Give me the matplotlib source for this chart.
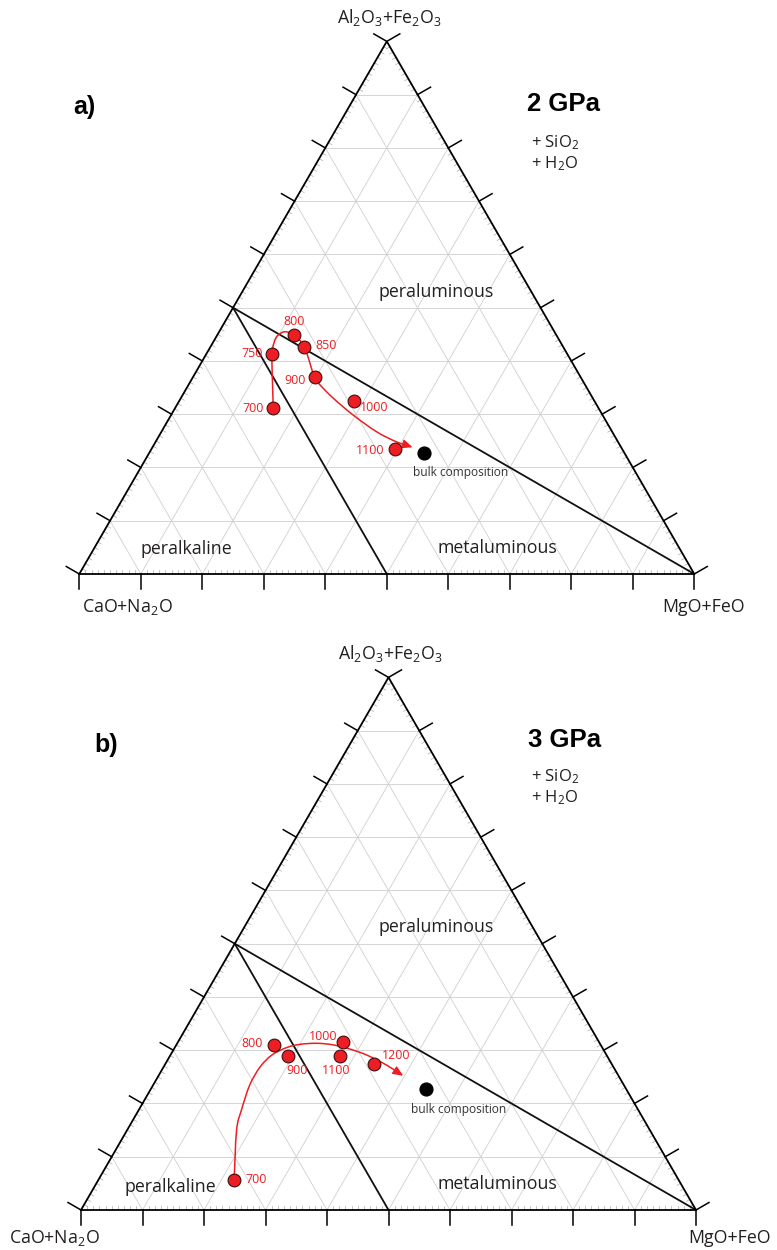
import numpy as np
import matplotlib
matplotlib.use("Agg")
import matplotlib.pyplot as plt
from matplotlib.path import Path
from matplotlib.patches import FancyArrowPatch

plt.rcParams['font.family'] = ['Open Sans', 'DejaVu Sans']
plt.rcParams['mathtext.fontset'] = 'custom'
plt.rcParams['mathtext.rm'] = 'Open Sans'
plt.rcParams['mathtext.it'] = 'Open Sans:italic'
plt.rcParams['mathtext.bf'] = 'Open Sans:bold'

# ---------------- data (ternary fractions: Al2O3+Fe2O3, MgO+FeO) ----------------
temps_a = [700, 750, 800, 850, 900, 1000, 1100]
al_a = [0.311, 0.414, 0.449, 0.426, 0.369, 0.325, 0.235]
mf_a = [0.160, 0.106, 0.124, 0.153, 0.198, 0.284, 0.396]

temps_b = [700, 800, 900, 1000, 1100, 1200]
al_b = [0.056, 0.310, 0.290, 0.315, 0.290, 0.274]
mf_b = [0.221, 0.159, 0.192, 0.269, 0.276, 0.340]

bulk_al = 0.228
bulk_mf = 0.447

# trend paths (arrows)
path_a_al = [0.311, 0.364, 0.415, 0.443, 0.4534, 0.4544, 0.449, 0.426, 0.369,
             0.355, 0.330, 0.2985, 0.267, 0.248, 0.238]
path_a_mf = [0.160, 0.132, 0.106, 0.098, 0.103, 0.1105, 0.124, 0.153, 0.198,
             0.214, 0.248, 0.296, 0.350, 0.392, 0.423]
path_b_al = [0.056, 0.150, 0.188, 0.235, 0.269, 0.291, 0.305, 0.311, 0.313,
             0.310, 0.302, 0.291, 0.272, 0.252]
path_b_mf = [0.221, 0.178, 0.167, 0.157, 0.157, 0.165, 0.182, 0.2005, 0.227,
             0.255, 0.2865, 0.319, 0.361, 0.398]

# field boundaries: CaO+Na2O = 50 %  and  Al2O3+Fe2O3 = CaO+Na2O
bound_c50_al = [0.5, 0.0]
bound_c50_mf = [0.0, 0.5]
bound_eq_al = [0.5, 0.0]
bound_eq_mf = [0.0, 1.0]

grid_fracs = [0.1, 0.2, 0.3, 0.4, 0.5, 0.6, 0.7, 0.8, 0.9]

RED = '#ee1d23'
TXT = '#231f20'
S3 = np.sqrt(3) / 2
W, H = 777, 1250
PX = 615.0  # pixels per data unit


def tern(a, m):
    a = np.asarray(a, float)
    m = np.asarray(m, float)
    return m + a / 2, a * S3


def smooth_path(xs, ys):
    P = np.column_stack([xs, ys])
    n = len(P)
    verts = [P[0]]
    codes = [Path.MOVETO]
    for i in range(n - 1):
        p0 = P[i - 1] if i > 0 else P[i]
        p1 = P[i]
        p2 = P[i + 1]
        p3 = P[i + 2] if i + 2 < n else P[i + 1]
        c1 = p1 + (p2 - p0) / 6
        c2 = p2 - (p3 - p1) / 6
        verts += [c1, c2, p2]
        codes += [Path.CURVE4] * 3
    return Path(verts, codes)


def draw_triangle(ax):
    ax.set_xlim(0, 1)
    ax.set_ylim(0, S3)
    ax.axis('off')
    for f in grid_fracs:
        x, y = tern([f, f], [0, 1 - f])
        ax.plot(x, y, color='#cfcfcf', lw=0.6, zorder=1, clip_on=False)
        x, y = tern([0, 1 - f], [f, f])
        ax.plot(x, y, color='#cfcfcf', lw=0.6, zorder=1, clip_on=False)
        x, y = tern([0, 1 - f], [1 - f, 0])
        ax.plot(x, y, color='#cfcfcf', lw=0.6, zorder=1, clip_on=False)
    x, y = tern([0, 0, 1, 0], [0, 1, 0, 0])
    ax.plot(x, y, color='black', lw=1.3, zorder=3, clip_on=False,
            solid_joinstyle='miter')
    L = 15 / PX
    l = 4 / PX
    edges = [
        (np.array([0, 0]), np.array([1, 0]), np.array([0, -1])),
        (np.array([0, 0]), np.array([0.5, S3]), np.array([-S3, 0.5])),
        (np.array([1, 0]), np.array([0.5, S3]), np.array([S3, 0.5])),
    ]
    for p0, p1, nrm in edges:
        for k in range(0, 101):
            t = k / 100
            p = p0 + (p1 - p0) * t
            if k % 10 == 0:
                q = p + nrm * L
                ax.plot([p[0], q[0]], [p[1], q[1]], color='black', lw=1.1,
                        zorder=3, clip_on=False)
            else:
                q = p - nrm * l
                ax.plot([p[0], q[0]], [p[1], q[1]], color='#aaaaaa', lw=0.5,
                        zorder=2, clip_on=False)
    for a, m in [(bound_c50_al, bound_c50_mf), (bound_eq_al, bound_eq_mf)]:
        x, y = tern(a, m)
        ax.plot(x, y, color='#111111', lw=1.3, zorder=2, clip_on=False)


def draw_data(ax, temps, al, mf, pal, pmf, offsets, bulk_off):
    px, py = tern(pal, pmf)
    arr = FancyArrowPatch(path=smooth_path(px, py),
                          arrowstyle='-|>,head_length=6,head_width=2.6',
                          color=RED, lw=1.1, mutation_scale=1,
                          transform=ax.transData, zorder=4, clip_on=False)
    ax.add_patch(arr)
    x, y = tern(al, mf)
    ax.plot(x, y, 'o', ms=9.2, mfc=RED, mec='#3a1010', mew=0.8, ls='none',
            zorder=5, clip_on=False)
    for t, xi, yi, (dx, dy) in zip(temps, x, y, offsets):
        ax.annotate(str(t), (xi, yi), xytext=(dx * 0.72, dy * 0.72),
                    textcoords='offset points', ha='center', va='center',
                    color=RED, fontsize=8.9, zorder=6)
    bx, by = tern([bulk_al], [bulk_mf])
    ax.plot(bx, by, 'o', ms=9.2, mfc='black', mec='black', ls='none',
            zorder=5, clip_on=False)
    ax.annotate('bulk composition', (bx[0], by[0]),
                xytext=(bulk_off[0] * 0.72, bulk_off[1] * 0.72),
                textcoords='offset points', ha='center', va='center',
                color='#333333', fontsize=8.6)


fig = plt.figure(figsize=(W / 100, H / 100), dpi=100)

ax1 = fig.add_axes([79.3 / W, (H - 574) / H, PX / W, PX * S3 / H])
ax2 = fig.add_axes([81 / W, (H - 1210) / H, PX / W, PX * S3 / H])
draw_triangle(ax1)
draw_triangle(ax2)

off_a = [(-20.6, 0), (-19.4, 0), (0.3, 13), (21.3, 1.3), (-19.4, -2.7),
         (20.6, -7), (-24.6, -1.3)]
off_b = [(22.4, 0.7), (-22.3, 1.7), (8.4, -15.3), (-20, 6), (-3.3, -15.3),
         (21.7, 8.3)]
draw_data(ax1, temps_a, al_a, mf_a, path_a_al, path_a_mf, off_a, (36, -20))
draw_data(ax2, temps_b, al_b, mf_b, path_b_al, path_b_mf, off_b, (33, -21))


def ftext(x, y, s, **kw):
    kw.setdefault('ha', 'center')
    kw.setdefault('va', 'center')
    kw.setdefault('color', TXT)
    fig.text(x / W, 1 - y / H, s, **kw)


AFE = 'Al$_2$O$_3$+Fe$_2$O$_3$'
CN = 'CaO+Na$_2$O'
MF = 'MgO+FeO'
BOLD = dict(fontweight='bold', family=['Liberation Sans', 'DejaVu Sans'],
            color='black')
FS = 12.8

# panel a
ftext(389, 18, AFE, fontsize=FS)
ftext(127, 607, CN, fontsize=FS)
ftext(704, 607, MF, fontsize=FS)
ftext(84, 107, 'a)', fontsize=18, **BOLD)
ftext(600, 104, '2 GPa', fontsize=18.5, ha='right', **BOLD)
ftext(531, 143, '+ SiO$_2$', fontsize=12, ha='left')
ftext(531, 164, '+ H$_2$O', fontsize=12, ha='left')
ftext(436, 292, 'peraluminous', fontsize=FS)
ftext(186, 549, 'peralkaline', fontsize=FS)
ftext(497, 548, 'metaluminous', fontsize=FS)

# panel b
ftext(390, 653, AFE, fontsize=FS)
ftext(54, 1238, CN, fontsize=FS)
ftext(730, 1238, MF, fontsize=FS)
ftext(106, 745, 'b)', fontsize=18, **BOLD)
ftext(601, 740, '3 GPa', fontsize=18.5, ha='right', **BOLD)
ftext(531, 777, '+ SiO$_2$', fontsize=12, ha='left')
ftext(531, 798, '+ H$_2$O', fontsize=12, ha='left')
ftext(436, 927, 'peraluminous', fontsize=FS)
ftext(170, 1187, 'peralkaline', fontsize=FS)
ftext(497, 1184, 'metaluminous', fontsize=FS)

fig.savefig('out.png', dpi=100)
